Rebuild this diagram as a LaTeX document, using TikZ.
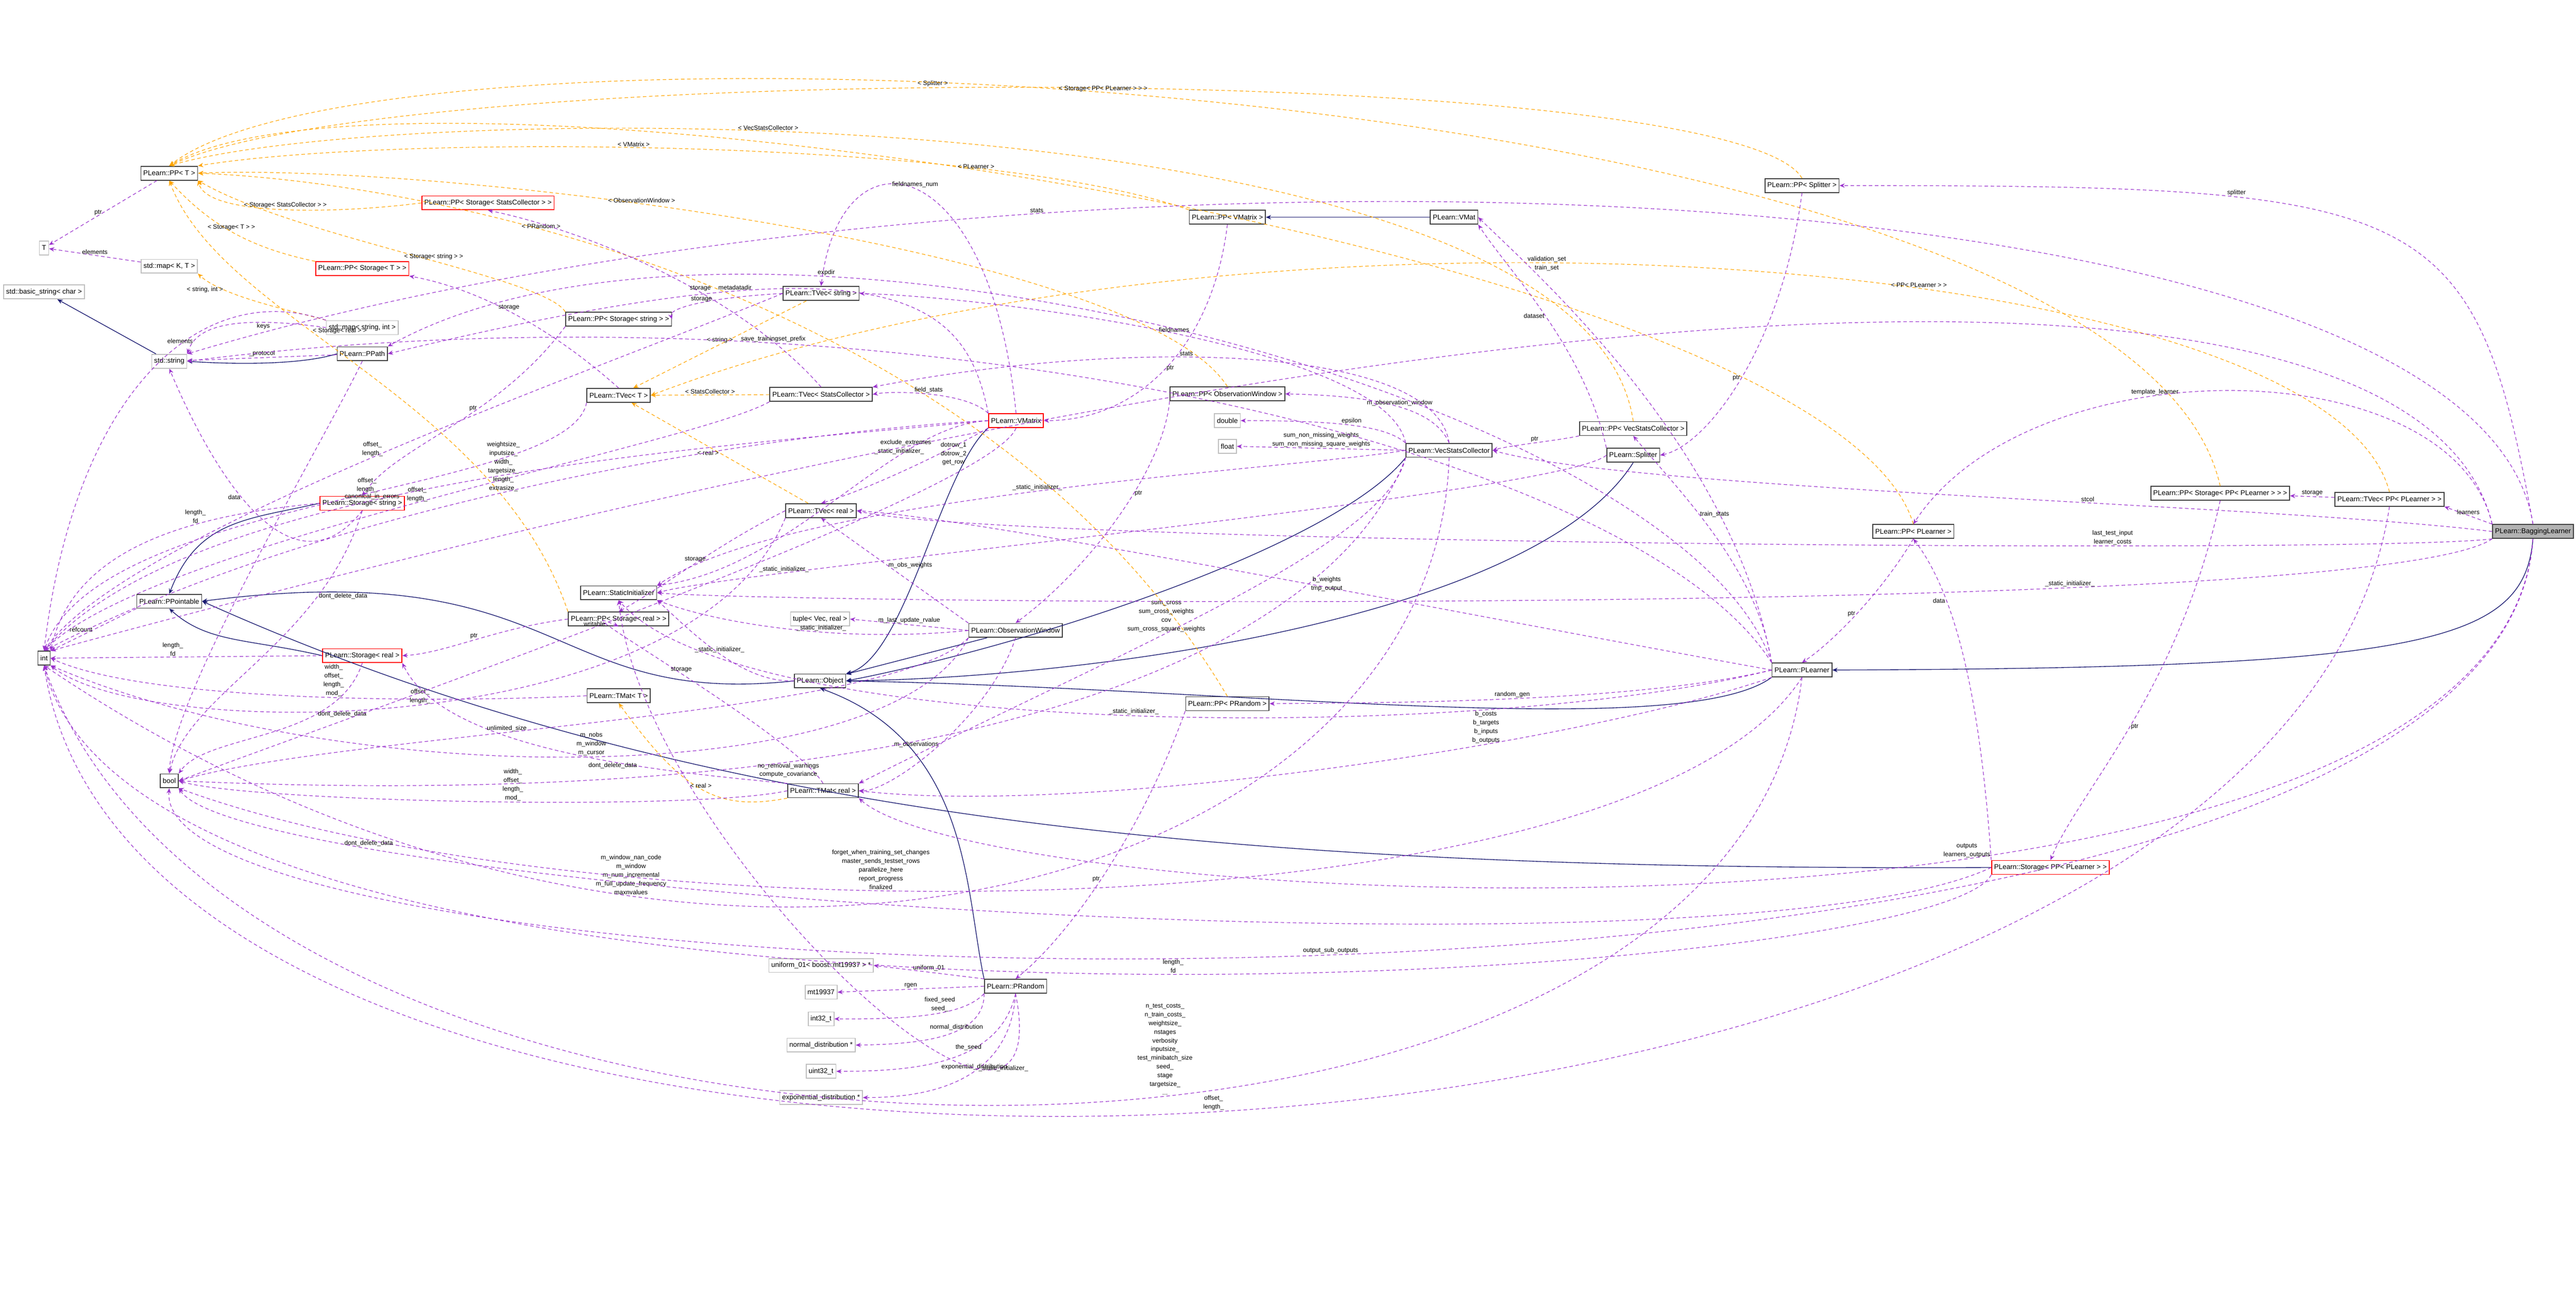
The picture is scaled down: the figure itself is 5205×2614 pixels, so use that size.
\documentclass[tikz,border=0pt]{standalone}
\usepackage{fontspec}
\setmainfont{Liberation Sans}
\usetikzlibrary{arrows.meta}
\definecolor{memberpurple}{RGB}{154,50,205}
\definecolor{tmplorange}{RGB}{255,165,0}
\definecolor{inhnavy}{RGB}{25,25,112}
\begin{document}
\begin{tikzpicture}[x=0.01cm,y=-0.01cm,
  font=\fontsize{4}{5}\selectfont,
  cls/.style={rectangle,draw=black!75,line width=0.5pt,fill=white,inner sep=1.4pt,minimum height=0.28cm},
  ext/.style={cls,draw=black!25},
  red/.style={cls,draw=red},
  main/.style={cls,fill=black!30},
  lbl/.style={align=center,inner sep=0.5pt,font=\fontsize{3.6}{5}\selectfont},
  mem/.style={draw=memberpurple,dashed,dash pattern=on 2pt off 1.5pt,line width=0.35pt,-{Stealth[length=3pt,width=2.5pt]}},
  tmpl/.style={draw=tmplorange,dashed,dash pattern=on 2pt off 1.5pt,line width=0.35pt,-{Stealth[length=3pt,width=2.5pt]}},
  inh/.style={draw=inhnavy,line width=0.4pt,-{Stealth[length=3pt,width=2.5pt]}}]

\useasboundingbox (0,0) rectangle (5205,2614);

% left columns
\node[cls]  (ppt)   at (342,350)  {PLearn::PP< T >};
\node[ext]  (tT)    at (89,501)   {T};
\node[ext]  (mapkt) at (342,538)  {std::map< K, T >};
\node[ext]  (bstr)  at (89,590)   {std::basic\_string< char >};
\node[ext]  (str)   at (342,730)  {std::string};
\node[cls]  (ppo)   at (342,1215) {PLearn::PPointable};
\node[cls]  (int)   at (89,1330)  {int};
\node[cls]  (bool)  at (342,1578) {bool};
\node[red]  (ppssc) at (986,410)  {PLearn::PP< Storage< StatsCollector > >};
\node[red]  (ppst)  at (732,543)  {PLearn::PP< Storage< T > >};
\node[ext]  (mapsi) at (732,662)  {std::map< string, int >};
\node[cls]  (ppath) at (732,715)  {PLearn::PPath};
\node[red]  (sstr)  at (732,1017) {PLearn::Storage< string >};
\node[red]  (sreal) at (732,1325) {PLearn::Storage< real >};
\node[cls]  (ppss)  at (1250,645) {PLearn::PP< Storage< string > >};
\node[cls]  (tvt)   at (1250,799) {PLearn::TVec< T >};
\node[cls]  (si)    at (1250,1198){PLearn::StaticInitializer};
\node[cls]  (ppsr)  at (1250,1251){PLearn::PP< Storage< real > >};
\node[cls]  (tmatt) at (1250,1406){PLearn::TMat< T >};

% middle columns
\node[cls]  (tvstr) at (1659,593)  {PLearn::TVec< string >};
\node[cls]  (tvsc)  at (1659,797)  {PLearn::TVec< StatsCollector >};
\node[cls]  (tvr)   at (1659,1032) {PLearn::TVec< real >};
\node[ext]  (tup)   at (1657,1251) {tuple< Vec, real >};
\node[cls]  (obj)   at (1657,1376) {PLearn::Object};
\node[cls]  (tmr)   at (1663,1598) {PLearn::TMat< real >};
\node[ext]  (uni)   at (1659,1951) {uniform\_01< boost::mt19937 > *};
\node[ext]  (mt)    at (1659,2005) {mt19937};
\node[ext]  (i32)   at (1659,2059) {int32\_t};
\node[ext]  (nd)    at (1659,2112) {normal\_distribution *};
\node[ext]  (u32)   at (1659,2165) {uint32\_t};
\node[ext]  (ed)    at (1659,2218) {exponential\_distribution *};
\node[red]  (vmx)   at (2053,850)  {PLearn::VMatrix};
\node[cls]  (ow)    at (2052,1274) {PLearn::ObservationWindow};
\node[cls]  (rnd)   at (2052,1993) {PLearn::PRandom};
\node[cls]  (ppvm)  at (2480,439)  {PLearn::PP< VMatrix >};
\node[cls]  (ppow)  at (2480,796)  {PLearn::PP< ObservationWindow >};
\node[ext]  (dbl)   at (2480,850)  {double};
\node[ext]  (flt)   at (2480,902)  {float};
\node[cls]  (pprnd) at (2480,1422) {PLearn::PP< PRandom >};
\node[cls]  (vmat)  at (2938,439)  {PLearn::VMat};
\node[cls]  (vsc)   at (2928,910)  {PLearn::VecStatsCollector};

% right columns
\node[cls]  (ppvsc) at (3300,866)  {PLearn::PP< VecStatsCollector >};
\node[cls]  (spl)   at (3300,920)  {PLearn::Splitter};
\node[cls]  (ppsp)  at (3641,375)  {PLearn::PP< Splitter >};
\node[cls]  (pl)    at (3641,1354) {PLearn::PLearner};
\node[cls]  (pppl)  at (3866,1074) {PLearn::PP< PLearner >};
\node[red]  (spl2)  at (4143,1753) {PLearn::Storage< PP< PLearner > >};
\node[cls]  (ppspl) at (4486,997)  {PLearn::PP< Storage< PP< PLearner > > >};
\node[cls]  (tvpl)  at (4828,1009) {PLearn::TVec< PP< PLearner > >};
\node[main] (bag)   at (5118,1074) {PLearn::BaggingLearner};

% inheritance
\draw[inh] (str) -- (bstr);
\draw[inh] (ppath.west) .. controls (600,740) and (450,735) .. (str.east);
\draw[inh] (sstr.west) .. controls (500,1050) and (400,1050) .. (ppo.north);
\draw[inh] (sreal.west) .. controls (500,1290) and (420,1300) .. (ppo.south);
\draw[inh] (obj.west) .. controls (1100,1430) and (1150,1120) .. (ppo.east);
\draw[inh] (spl2.west) .. controls (2500,1760) and (1400,1660) .. (ppo.east);
\draw[inh] (vmx.south west) .. controls (1900,950) and (1830,1330) .. (obj.north east);
\draw[inh] (ow) -- (obj);
\draw[inh] (vsc.south west) .. controls (2700,1100) and (2100,1300) .. (obj.east);
\draw[inh] (spl.south) .. controls (3100,1250) and (2200,1370) .. (obj.east);
\draw[inh] (pl.south west) .. controls (3400,1500) and (2500,1390) .. (obj.east);
\draw[inh] (rnd.north west) .. controls (1950,1800) and (1960,1500) .. (obj.south);
\draw[inh] (vmat) -- (ppvm);
\draw[inh] (bag.south) .. controls (5100,1300) and (4900,1350) .. (pl.east);

% templates
\draw[tmpl] (ppssc.west) .. controls (700,430) and (420,440) .. node[lbl,above]{< Storage< StatsCollector > >} (ppt.south east);
\draw[tmpl] (ppst.north west) .. controls (500,500) and (420,450) .. node[lbl,above]{< Storage< T > >} (ppt.south);
\draw[tmpl] (ppss.north west) .. controls (1100,560) and (600,480) .. node[lbl,above,pos=0.45]{< Storage< string > >} (ppt.south east);
\draw[tmpl] (ppsr.north west) .. controls (1000,800) and (450,650) .. node[lbl,pos=0.6,right]{< Storage< real > >} (ppt.south);
\draw[tmpl] (ppvm.north west) .. controls (2000,280) and (800,270) .. node[lbl,above,pos=0.55]{< VMatrix >} (ppt.north east);
\draw[tmpl] (ppow.north) .. controls (2300,500) and (900,330) .. node[lbl,above,pos=0.6]{< ObservationWindow >} (ppt.east);
\draw[tmpl] (pprnd.north) .. controls (2000,600) and (900,370) .. node[lbl,above,pos=0.65]{< PRandom >} (ppt.east);
\draw[tmpl] (ppvsc.north) .. controls (3200,180) and (800,200) .. node[lbl,above,pos=0.6]{< VecStatsCollector >} (ppt.north);
\draw[tmpl] (ppsp.north) .. controls (3500,120) and (800,120) .. node[lbl,above,pos=0.55]{< Splitter >} (ppt.north);
\draw[tmpl] (pppl.north) .. controls (3700,500) and (800,60) .. node[lbl,above,pos=0.55]{< PLearner >} (ppt.north);
\draw[tmpl] (ppspl.north) .. controls (4300,150) and (800,-20) .. node[lbl,above,pos=0.55]{< Storage< PP< PLearner > > >} (ppt.north);
\draw[tmpl] (mapsi.north west) .. controls (600,630) and (450,600) .. node[lbl,left,pos=0.75]{< string, int >} (mapkt.south east);
\draw[tmpl] (tvstr) -- node[lbl,above]{< string >} (tvt);
\draw[tmpl] (tvsc) -- node[lbl,above]{< StatsCollector >} (tvt);
\draw[tmpl] (tvr) -- node[lbl,left]{< real >} (tvt);
\draw[tmpl] (tvpl.north) .. controls (4700,500) and (2500,350) .. node[lbl,above,pos=0.4]{< PP< PLearner > >} (tvt.east);
\draw[tmpl] (tmr.south west) .. controls (1450,1640) and (1380,1600) .. node[lbl,above]{< real >} (tmatt.south);

% members of the pointer and container classes
\draw[mem] (ppt) -- node[lbl,left]{ptr} (tT);
\draw[mem] (mapkt) -- node[lbl,above]{elements} (tT);
\draw[mem] (mapsi.west) .. controls (500,640) and (400,650) .. node[lbl,below,pos=0.3]{keys} (str.north east);
\draw[mem] (mapsi.north west) .. controls (400,560) and (150,800) .. node[lbl,above,pos=0.4]{elements} (int.north);
\draw[mem] (ppath) -- node[lbl,above]{\_protocol} (str);
\draw[mem] (ppath.south) .. controls (650,900) and (350,1400) .. (bool.north);
\draw[mem] (tvsc.north) .. controls (1500,600) and (1200,470) .. node[lbl,above,pos=0.4]{storage} (ppssc.south);
\draw[mem] (tvt.north) .. controls (1100,650) and (950,580) .. node[lbl,above]{storage} (ppst.south east);
\draw[mem] (tvstr.west) .. controls (1450,600) and (1350,620) .. node[lbl,above]{storage} (ppss.east);
\draw[mem] (tvr.west) .. controls (1450,1100) and (1350,1180) .. node[lbl,above]{storage} (ppsr.north);
\draw[mem] (tvpl) -- node[lbl,above]{storage} (ppspl);
\draw[mem] (ppss.south west) .. controls (1000,850) and (800,900) .. node[lbl,above,pos=0.4]{ptr} (sstr.north);
\draw[mem] (ppsr.west) .. controls (1000,1270) and (900,1320) .. node[lbl,above]{ptr} (sreal.east);
\draw[mem] (ppspl.south) .. controls (4400,1400) and (4200,1600) .. node[lbl,right,pos=0.5]{ptr} (spl2.north);
\draw[mem] (ppvm.south) .. controls (2450,700) and (2300,850) .. node[lbl,right,pos=0.5]{ptr} (vmx.east);
\draw[mem] (ppow.south west) .. controls (2350,950) and (2200,1150) .. node[lbl,right,pos=0.4]{ptr} (ow.north);
\draw[mem] (pprnd.south west) .. controls (2300,1700) and (2150,1900) .. node[lbl,left,pos=0.5]{ptr} (rnd.north);
\draw[mem] (ppvsc.south west) .. controls (3150,890) and (3050,900) .. node[lbl,above]{ptr} (vsc.east);
\draw[mem] (ppsp.south) .. controls (3600,700) and (3450,900) .. node[lbl,left,pos=0.5]{ptr} (spl.east);
\draw[mem] (pppl.south) .. controls (3800,1200) and (3700,1300) .. node[lbl,left,pos=0.5]{ptr} (pl.north);
\draw[mem] (spl2.north west) .. controls (4000,1400) and (3950,1200) .. node[lbl,left,pos=0.7]{data} (pppl.south);
\draw[mem] (sstr.south) .. controls (600,1200) and (450,1000) .. node[lbl,left,pos=0.6]{data} (str.south);
\draw[mem] (sstr.west) .. controls (400,1040) and (150,1100) .. node[lbl,above,pos=0.35]{length\_\\fd} (int.north east);
\draw[mem] (sstr.south) .. controls (650,1300) and (380,1400) .. node[lbl,right,pos=0.25]{dont\_delete\_data} (bool.north);
\draw[mem] (sreal.west) -- node[lbl,above,pos=0.55]{length\_\\fd} (int.east);
\draw[mem] (sreal.south) .. controls (680,1500) and (420,1480) .. node[lbl,right,pos=0.3]{dont\_delete\_data} (bool.north east);
\draw[mem] (ppo.south west) -- node[lbl,left]{refcount} (int.north east);
\draw[mem] (tvt.south west) .. controls (1150,1000) and (200,1000) .. node[lbl,above,pos=0.45]{offset\_\\length\_} (int.north);
\draw[mem] (tvstr.west) .. controls (1200,750) and (250,1080) .. node[lbl,above,pos=0.5]{offset\_\\length\_} (int.north);
\draw[mem] (tvsc.south west) .. controls (1400,900) and (300,1100) .. node[lbl,above,pos=0.5]{offset\_\\length\_} (int.north);
\draw[mem] (tvr.south west) .. controls (1400,1500) and (300,1500) .. node[lbl,above,pos=0.5]{offset\_\\length\_} (int.south east);
\draw[mem] (tmatt.west) .. controls (900,1420) and (300,1420) .. node[lbl,above,pos=0.45]{width\_\\offset\_\\length\_\\mod\_} (int.east);
\draw[mem] (tmr.west) .. controls (1400,1640) and (500,1620) .. node[lbl,above,pos=0.45]{width\_\\offset\_\\length\_\\mod\_} (bool.east);
\draw[mem] (tmr.north west) .. controls (1350,1560) and (900,1520) .. node[lbl,below,pos=0.4]{dont\_delete\_data} (sreal.south east);
\draw[mem] (tmr.north) .. controls (1600,1480) and (1100,1200) .. node[lbl,above,pos=0.5]{storage} (ppsr.south);

% VMatrix
\draw[mem] (vmx.west) .. controls (1600,870) and (700,1000) .. node[lbl,above,pos=0.55]{weightsize\_\\inputsize\_\\width\_\\targetsize\_\\length\_\\extrasize\_} (int.north);
\draw[mem] (vmx.west) .. controls (1800,860) and (1600,1150) .. node[lbl,above,pos=0.3]{\_static\_initializer\_} (si.north east);
\draw[mem] (vmx.south west) .. controls (1900,920) and (1750,990) .. node[lbl,right,pos=0.3]{dotrow\_1\\dotrow\_2\\get\_row} (tvr.north);
\draw[mem] (vmx.north west) .. controls (1950,790) and (1800,790) .. node[lbl,above,pos=0.5]{field\_stats} (tvsc.east);
\draw[mem] (vmx.north west) .. controls (1950,600) and (1800,470) .. node[lbl,above,pos=0.7]{metadatadir} (ppath.east);
\draw[mem] (vmx.north) .. controls (2000,300) and (1700,250) .. node[lbl,right,pos=0.6]{fieldnames\_num} (tvstr.north);
\draw[mem] (vmx.west) .. controls (1500,900) and (400,960) .. node[lbl,above,pos=0.6]{canonical\_in\_errors} (int.north);
\draw[mem] (vmx.south) .. controls (2000,1000) and (700,1450) .. node[lbl,above,pos=0.55]{writable} (bool.east);

% Object, ObservationWindow
\draw[mem] (obj.west) .. controls (1500,1380) and (1400,1280) .. node[lbl,above,pos=0.5]{\_static\_initializer\_} (si.south east);
\draw[mem] (ow.west) -- node[lbl,above]{m\_last\_update\_rvalue} (tup.east);
\draw[mem] (ow.south) .. controls (2000,1450) and (1800,1600) .. node[lbl,left,pos=0.5]{m\_observations} (tmr.east);
\draw[mem] (ow.north west) -- node[lbl,right,pos=0.55]{m\_obs\_weights} (tvr.south);
\draw[mem] (ow.south west) .. controls (1800,1600) and (700,1600) .. node[lbl,above,pos=0.5]{m\_nobs\\m\_window\\m\_cursor} (int.south east);
\draw[mem] (ow.west) .. controls (1700,1300) and (1450,1260) .. node[lbl,above,pos=0.4]{\_static\_initializer\_} (si.south east);
\draw[mem] (ow.south west) .. controls (1800,1450) and (700,1480) .. node[lbl,above,pos=0.6]{unlimited\_size} (bool.east);

% VecStatsCollector
\draw[mem] (vsc.north) .. controls (2900,830) and (2800,800) .. node[lbl,above,pos=0.5]{m\_observation\_window} (ppow.east);
\draw[mem] (vsc.north west) .. controls (2800,860) and (2700,850) .. node[lbl,above]{epsilon} (dbl.east);
\draw[mem] (vsc.west) -- node[lbl,above]{sum\_non\_missing\_weights\\sum\_non\_missing\_square\_weights} (flt.east);
\draw[mem] (vsc.north) .. controls (2900,700) and (2300,680) .. node[lbl,above,pos=0.6]{stats} (tvsc.north east);
\draw[mem] (vsc.north west) .. controls (2800,700) and (2000,600) .. node[lbl,above,pos=0.5]{fieldnames} (tvstr.east);
\draw[mem] (vsc.south west) .. controls (2800,1100) and (2300,1300) .. node[lbl,above,pos=0.6]{sum\_cross\\sum\_cross\_weights\\cov\\sum\_cross\_square\_weights} (tmr.north east);
\draw[mem] (vsc.south west) .. controls (2700,1300) and (2000,1650) .. node[lbl,below,pos=0.7]{no\_removal\_warnings\\compute\_covariance} (bool.east);
\draw[mem] (vsc.south) .. controls (2900,1800) and (1400,2230) .. node[lbl,above,pos=0.7]{m\_window\_nan\_code\\m\_window\\m\_num\_incremental\\m\_full\_update\_frequency\\maxnvalues} (int.south);
\draw[mem] (vsc.west) .. controls (2600,950) and (1600,1000) .. node[lbl,above,pos=0.5]{\_static\_initializer\_} (si.north east);

% Splitter
\draw[mem] (spl.north west) .. controls (3200,700) and (3050,550) .. node[lbl,left,pos=0.5]{dataset} (vmat.south east);
\draw[mem] (spl.west) .. controls (3150,1000) and (1500,1150) .. node[lbl,above,pos=0.8]{\_static\_initializer\_} (si.east);

% PLearner
\draw[mem] (pl.north west) .. controls (3500,900) and (3100,550) .. node[lbl,right,pos=0.8]{validation\_set\\train\_set} (vmat.east);
\draw[mem] (pl.north west) .. controls (3550,1150) and (3400,1000) .. node[lbl,right,pos=0.6]{train\_stats} (ppvsc.south);
\draw[mem] (pl.north west) .. controls (3400,800) and (1500,300) .. node[lbl,above,pos=0.7]{expdir} (ppath.north east);
\draw[mem] (pl.north west) .. controls (3300,900) and (1800,550) .. node[lbl,above,pos=0.72]{save\_trainingset\_prefix} (str.east);
\draw[mem] (pl.west) .. controls (3300,1420) and (2800,1420) .. node[lbl,above,pos=0.5]{random\_gen} (pprnd.east);
\draw[mem] (pl.west) .. controls (3000,1250) and (2000,1050) .. node[lbl,right,pos=0.45]{b\_weights\\tmp\_output} (tvr.east);
\draw[mem] (pl.south west) .. controls (3200,1500) and (2200,1650) .. node[lbl,above,pos=0.35]{b\_costs\\b\_targets\\b\_inputs\\b\_outputs} (tmr.east);
\draw[mem] (pl.south) .. controls (3300,1900) and (1200,1900) .. node[lbl,above,pos=0.6]{forget\_when\_training\_set\_changes\\master\_sends\_testset\_rows\\parallelize\_here\\report\_progress\\finalized} (bool.south east);
\draw[mem] (pl.south) .. controls (3500,2550) and (500,2500) .. node[lbl,above,pos=0.42]{n\_test\_costs\_\\n\_train\_costs\_\\weightsize\_\\nstages\\verbosity\\inputsize\_\\test\_minibatch\_size\\seed\_\\stage\\targetsize\_\\...} (int.south);
\draw[mem] (pl.west) .. controls (3000,1500) and (1500,1500) .. node[lbl,above,pos=0.5]{\_static\_initializer\_} (si.south);

% PRandom
\draw[mem] (rnd.north west) -- node[lbl,above]{uniform\_01} (uni.east);
\draw[mem] (rnd.west) -- node[lbl,above]{rgen} (mt.east);
\draw[mem] (rnd.south west) .. controls (1950,2050) and (1850,2060) .. node[lbl,above,pos=0.45]{fixed\_seed\\seed\_} (i32.east);
\draw[mem] (rnd.south west) .. controls (1990,2100) and (1850,2110) .. node[lbl,above,pos=0.4]{normal\_distribution} (nd.east);
\draw[mem] (rnd.south) .. controls (2020,2150) and (1850,2165) .. node[lbl,above,pos=0.4]{the\_seed} (u32.east);
\draw[mem] (rnd.south) .. controls (2040,2200) and (1850,2218) .. node[lbl,above,pos=0.4]{exponential\_distribution} (ed.east);
\draw[mem] (rnd.south) .. controls (2150,2500) and (1300,1700) .. node[lbl,right,pos=0.25]{\_static\_initializer\_} (si.south);

% Storage< PP< PLearner > >, TVec< PP< PLearner > >
\draw[mem] (spl2.south west) .. controls (3900,2000) and (300,2200) .. node[lbl,above,pos=0.45]{length\_\\fd} (int.south);
\draw[mem] (spl2.west) .. controls (3500,2000) and (500,1800) .. node[lbl,above,pos=0.8]{dont\_delete\_data} (bool.south east);
\draw[mem] (tvpl.south) .. controls (4600,2500) and (300,2700) .. node[lbl,above,pos=0.5]{offset\_\\length\_} (int.south);

% BaggingLearner
\draw[mem] (bag.north) .. controls (5000,400) and (4900,375) .. node[lbl,above,pos=0.7]{splitter} (ppsp.east);
\draw[mem] (bag.north) .. controls (5000,300) and (2000,230) .. node[lbl,above,pos=0.7]{stats} (str.north east);
\draw[mem] (bag.north west) .. controls (4900,500) and (3300,450) .. node[lbl,above,pos=0.8]{exclude\_extremes} (int.north east);
\draw[mem] (bag.north west) .. controls (4950,700) and (4100,700) .. node[lbl,above,pos=0.6]{template\_learner} (pppl.north);
\draw[mem] (bag.north west) -- node[lbl,above]{learners} (tvpl.south east);
\draw[mem] (bag.west) .. controls (4600,1020) and (3300,990) .. node[lbl,above,pos=0.4]{stcol} (vsc.east);
\draw[mem] (bag.south west) .. controls (4800,1120) and (2000,1100) .. node[lbl,above,pos=0.3]{last\_test\_input\\learner\_costs} (tvr.east);
\draw[mem] (bag.south west) .. controls (4800,1250) and (1600,1220) .. node[lbl,above,pos=0.3]{\_static\_initializer\_} (si.east);
\draw[mem] (bag.south) .. controls (5050,2000) and (2000,1850) .. node[lbl,above,pos=0.4]{outputs\\learners\_outputs} (tmr.south east);
\draw[mem] (bag.south) .. controls (5050,2200) and (300,2050) .. node[lbl,above,pos=0.5]{output\_sub\_outputs} (bool.south);
\end{tikzpicture}
\end{document}
